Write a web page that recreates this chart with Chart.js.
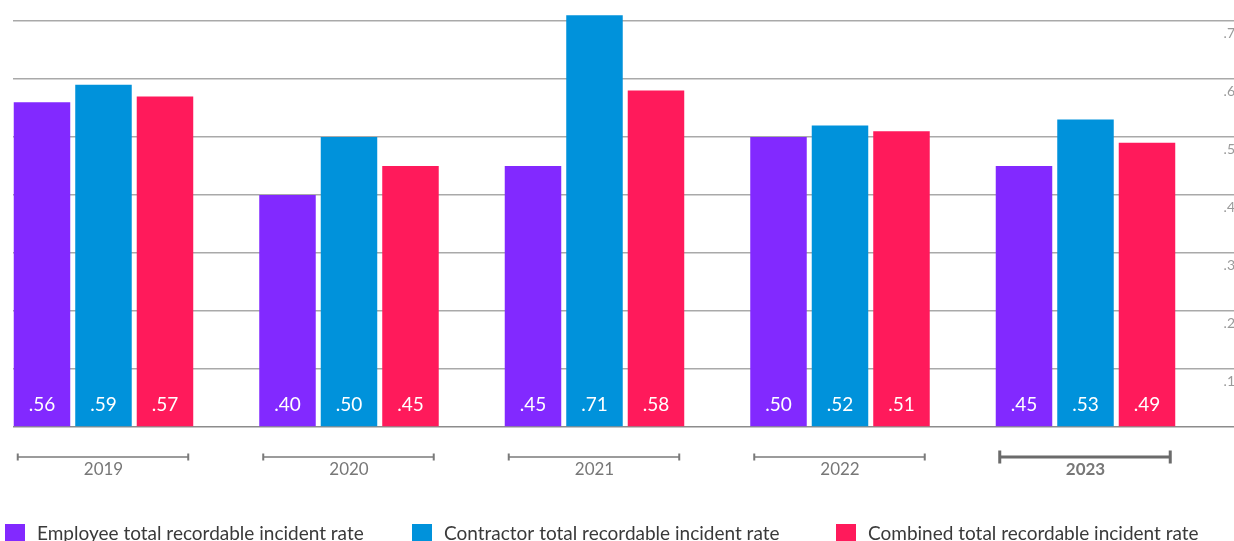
<!DOCTYPE html>
<html>
<head>
<meta charset="utf-8">
<script src="https://cdn.jsdelivr.net/npm/chart.js@4/dist/chart.umd.min.js"></script>
<style>
  html, body { margin: 0; padding: 0; background: #fff; overflow: hidden; }
  #wrap { position: relative; width: 1234px; height: 541px; }
</style>
</head>
<body>
<div id="wrap"><canvas id="chart"></canvas></div>
<script>
// Total recordable incident rates by year
const years = ['2019', '2020', '2021', '2022', '2023'];
const employeeRate = [0.56, 0.40, 0.45, 0.50, 0.45];
const contractorRate = [0.59, 0.50, 0.71, 0.52, 0.53];
const combinedRate = [0.57, 0.45, 0.58, 0.51, 0.49];
const seriesNames = [
  'Employee total recordable incident rate',
  'Contractor total recordable incident rate',
  'Combined total recordable incident rate'
];
const yTicks = [0, 0.1, 0.2, 0.3, 0.4, 0.5, 0.6, 0.7];

const FONT = 'Lato, "Open Sans", sans-serif';
const fmt = v => v.toFixed(2).replace(/^0/, '');

// White value labels near the base of every bar
const barValueLabels = {
  id: 'barValueLabels',
  afterDatasetsDraw(chart) {
    const ctx = chart.ctx;
    ctx.save();
    ctx.font = '19px ' + FONT;
    ctx.fillStyle = '#ffffff';
    ctx.textAlign = 'center';
    ctx.textBaseline = 'middle';
    chart.data.datasets.forEach((ds, di) => {
      chart.getDatasetMeta(di).data.forEach((bar, i) => {
        ctx.fillText(fmt(ds.data[i]), bar.x, bar.base - 21);
      });
    });
    ctx.restore();
  }
};

// Bracket under each year group; the latest year is emphasised
const yearBrackets = {
  id: 'yearBrackets',
  afterDraw(chart) {
    const ctx = chart.ctx;
    const first = chart.getDatasetMeta(0).data;
    const last = chart.getDatasetMeta(chart.data.datasets.length - 1).data;
    const y = chart.chartArea.bottom + 30;
    ctx.save();
    first.forEach((bar, i) => {
      const x0 = bar.x - bar.width / 2 + 4;
      const x1 = last[i].x + last[i].width / 2 - 5;
      const bold = i === years.length - 1;
      ctx.strokeStyle = bold ? '#6b6b6b' : '#7a7a7a';
      ctx.lineWidth = bold ? 3 : 1.4;
      const cap = bold ? 6.5 : 3.5;
      ctx.beginPath();
      ctx.moveTo(x0, y); ctx.lineTo(x1, y);
      ctx.stroke();
      ctx.lineWidth = bold ? 3 : 2;
      ctx.beginPath();
      ctx.moveTo(x0, y - cap); ctx.lineTo(x0, y + cap);
      ctx.moveTo(x1, y - cap); ctx.lineTo(x1, y + cap);
      ctx.stroke();
    });
    ctx.restore();
  }
};

// Legend row along the bottom edge, one column per series
const seriesLegend = {
  id: 'seriesLegend',
  afterDraw(chart, args, opts) {
    const ctx = chart.ctx;
    ctx.save();
    ctx.font = opts.fontSize + 'px ' + FONT;
    ctx.textBaseline = 'middle';
    ctx.textAlign = 'left';
    chart.data.datasets.forEach((ds, i) => {
      const x = opts.starts[i];
      ctx.fillStyle = ds.backgroundColor;
      ctx.fillRect(x, opts.top, opts.box, opts.box);
      ctx.fillStyle = opts.color;
      ctx.fillText(ds.label, x + opts.box + opts.gap, opts.top + opts.box / 2);
    });
    ctx.restore();
  }
};

const colors = ['#8229ff', '#0092db', '#ff1a5b'];
const seriesData = [employeeRate, contractorRate, combinedRate];

new Chart(document.getElementById('chart'), {
  type: 'bar',
  data: {
    labels: years,
    datasets: seriesData.map((d, i) => ({
      label: seriesNames[i],
      data: d,
      backgroundColor: colors[i],
      borderWidth: 0,
      categoryPercentage: 0.7515,
      barPercentage: 0.9187
    }))
  },
  plugins: [barValueLabels, yearBrackets, seriesLegend],
  options: {
    responsive: true,
    maintainAspectRatio: false,
    devicePixelRatio: 1,
    animation: false,
    layout: { padding: { top: 9, left: 13, right: 0, bottom: 29.6 } },
    scales: {
      x: {
        type: 'linear',
        offset: false,
        min: 2018.6314,
        max: 2023.6049,
        grid: { display: false, drawTicks: false, offset: false },
        border: { display: false },
        afterBuildTicks: s => { s.ticks = years.map(y => ({ value: +y })); },
        ticks: {
          padding: 32,
          color: '#777777',
          callback: v => String(v),
          font: c => ({ family: FONT, size: 17, weight: c.index === years.length - 1 ? 'bold' : 'normal' })
        }
      },
      y: {
        position: 'right',
        min: 0,
        max: 0.72,
        grid: {
          drawTicks: false,
          color: c => c.tick.value === 0 ? '#8c8c8c' : '#a9a9a9',
          lineWidth: 1.5
        },
        border: { display: false },
        afterBuildTicks: s => { s.ticks = yTicks.map(v => ({ value: v })); },
        afterFit: s => { s.width = 0; },
        ticks: {
          mirror: true,
          padding: 1,
          labelOffset: 12,
          color: '#9a9a9a',
          font: { family: FONT, size: 14 },
          callback: v => v === 0 ? '' : '.' + Math.round(v * 10)
        }
      }
    },
    plugins: {
      tooltip: { enabled: false },
      legend: { display: false },
      seriesLegend: {
        starts: [5, 412, 836],
        top: 524,
        box: 20,
        gap: 12,
        fontSize: 19,
        color: '#3a3a3a'
      }
    }
  }
});
</script>
</body>
</html>
